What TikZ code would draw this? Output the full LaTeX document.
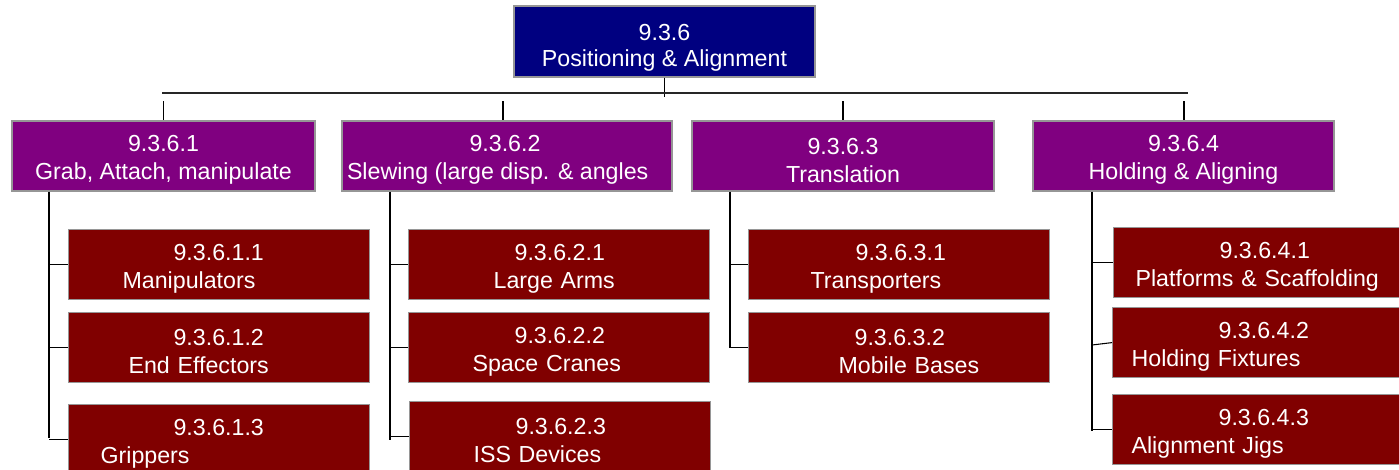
\documentclass[tikz,border=0pt]{standalone}
\usepackage{fontspec}
\setmainfont{Liberation Sans}
\definecolor{rootblue}{RGB}{0,0,128}
\definecolor{grouppurple}{RGB}{128,0,128}
\definecolor{leafred}{RGB}{128,0,0}
\definecolor{edgegray}{RGB}{150,150,150}
% invisible strut that gives the first line extra height
\newcommand\lift[1]{\rule{0pt}{#1}}
% two left-aligned lines, each with its own indent
\newcommand\twolines[4]{\lift{18.5pt}\hspace*{#1}#2\\\hspace*{#3}#4}
\begin{document}
\begin{tikzpicture}[x=0.75pt,y=-0.75pt,
  box/.style={rectangle, draw=edgegray, line width=0.9pt, text=white, inner sep=0pt,
              font=\fontsize{17.4pt}{21pt}\selectfont},
  rootbox/.style={box, fill=rootblue, minimum width=225.75pt, minimum height=53.25pt,
                  align=center, font=\fontsize{17.4pt}{19.5pt}\selectfont},
  groupbox/.style={box, fill=grouppurple, minimum height=52.5pt, align=center},
  leafbox/.style={box, fill=leafred, anchor=north west, text width=225.75pt,
                  minimum height=52.5pt, align=left},
  link/.style={draw=black, line width=0.8pt},
  bus/.style={draw=black!85, line width=1.1pt}
]
\useasboundingbox (0,0) rectangle (1399,469);
\clip (0,0) rectangle (1399,469);

% root
\node[rootbox] (root) at (664.5,41.5) {\lift{22pt}9.3.6\\Positioning \& Alignment};

% second level
\node[groupbox, minimum width=227.25pt] (g1) at (163.5,156) {\lift{18.5pt}9.3.6.1\\Grab, Attach, manipulate};
\node[groupbox, minimum width=247.5pt]  (g2) at (507,156)   {\lift{18.5pt}9.3.6.2\hspace*{3pt}\\Slewing (large disp. \& angles\hspace*{14pt}};
\node[groupbox, minimum width=226.5pt]  (g3) at (843,156)   {\lift{18.5pt}9.3.6.3\\Translation};
\node[groupbox, minimum width=225.75pt] (g4) at (1183.5,156){\lift{18.5pt}9.3.6.4\\Holding \& Aligning};

% leaves
\node[leafbox] (b11) at (68,229)  {\twolines{78.75pt}{9.3.6.1.1}{40.5pt}{Manipulators}};
\node[leafbox] (b12) at (68,312)  {\twolines{78.75pt}{9.3.6.1.2}{45pt}{End Effectors}};
\node[leafbox] (b13) at (68,404)  {\twolines{78.75pt}{9.3.6.1.3}{24pt}{Grippers}};

\node[leafbox] (b21) at (408,229) {\twolines{79.5pt}{9.3.6.2.1}{63.75pt}{Large Arms}};
\node[leafbox] (b22) at (408,312) {\twolines{79.5pt}{9.3.6.2.2}{48pt}{Space Cranes}};
\node[leafbox] (b23) at (409,401) {\twolines{79.5pt}{9.3.6.2.3}{48pt}{ISS Devices}};

\node[leafbox] (b31) at (748,229) {\twolines{80.25pt}{9.3.6.3.1}{46.5pt}{Transporters}};
\node[leafbox] (b32) at (748,312) {\twolines{79.5pt}{9.3.6.3.2}{67.5pt}{Mobile Bases}};

\node[leafbox] (b41) at (1113,227) {\twolines{79.5pt}{9.3.6.4.1}{16.5pt}{Platforms \& Scaffolding}};
\node[leafbox] (b42) at (1112,307) {\twolines{79.5pt}{9.3.6.4.2}{14.25pt}{Holding Fixtures}};
\node[leafbox] (b43) at (1112,394) {\twolines{79.5pt}{9.3.6.4.3}{14.25pt}{Alignment Jigs}};

% bus and stubs
\coordinate (rootEnd) at (664.5,97);
\coordinate (busL) at (162,93);
\coordinate (busR) at (1188,93);
\coordinate (s1) at (163.5,101);
\coordinate (s2) at (503,101);
\coordinate (s3) at (843,101);
\coordinate (s4) at (1184,101);
\draw[link] (root.south) -- (rootEnd);
\draw[bus] (busL) -- (busR);
\draw[link] (s1) -- (s1 |- g1.north);
\draw[link] (s2) -- (s2 |- g2.north);
\draw[link] (s3) -- (s3 |- g3.north);
\draw[link] (s4) -- (s4 |- g4.north);

% column spines
\coordinate (c1) at (49,438);
\coordinate (c2) at (390,440);
\coordinate (c3) at (730,348);
\coordinate (c4) at (1092,431);
\coordinate (t42) at (1092,345);
\draw[link] (c1 |- g1.south) -- (c1);
\draw[link] (c2 |- g2.south) -- (c2);
\draw[link] (c3 |- g3.south) -- (c3);
\draw[link] (c4 |- g4.south) -- (c4);

% ticks into the leaves
\draw[link] (c1 |- b11.west) -- (b11.west);
\draw[link] (c1 |- b12.west) -- (b12.west);
\draw[link] (c1 |- b13.west) -- (b13.west);
\draw[link] (c2 |- b21.west) -- (b21.west);
\draw[link] (c2 |- b22.west) -- (b22.west);
\draw[link] (c2 |- b23.west) -- (b23.west);
\draw[link] (c3 |- b31.west) -- (b31.west);
\draw[link] (c3 |- b32.west) -- (b32.west);
\draw[link] (c4 |- b41.west) -- (b41.west);
\draw[link] (t42) -- (b42.west);
\draw[link] (c4 |- b43.west) -- (b43.west);
\end{tikzpicture}
\end{document}
